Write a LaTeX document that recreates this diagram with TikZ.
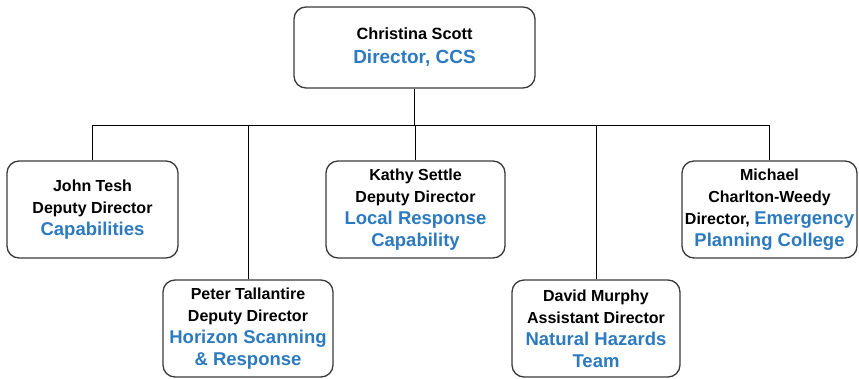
\documentclass[tikz,border=0pt]{standalone}
\usepackage{fontspec}
\setmainfont{Liberation Sans}
\usepackage{xcolor}
\usetikzlibrary{positioning}
\definecolor{my_blue}{HTML}{2C7ABF}
\definecolor{my_darkgray}{HTML}{3A3A3A}
\newcommand{\deptname}[1]{{\color{my_blue}\fontsize{18.5}{22}\selectfont #1}}

\begin{document}
\begin{tikzpicture}[
    x=1pt, y=-1pt,
    orgbox/.style={draw=my_darkgray, line width=1.3pt, rounded corners=12pt, fill=white,
        align=center, inner sep=0pt, minimum height=97pt,
        font=\bfseries\fontsize{16}{22}\selectfont},
    link/.style={draw=black, line width=0.9pt}
]
\useasboundingbox (0,0) rectangle (859,378);

% --- Director ---
\node[orgbox, minimum width=241pt, minimum height=81pt,
      font=\bfseries\fontsize{16.3}{24}\selectfont] (ccs) at (414.5,47.5)
    {Christina Scott\\ {\color{my_blue}\fontsize{19}{24}\selectfont Director, CCS}};

% --- Upper row ---
\node[orgbox, minimum width=171pt] (tesh) at (92.5,209.5)
    {John Tesh\\ Deputy Director\\ \deptname{Capabilities}};
\node[orgbox, minimum width=179pt] (settle) at (415.5,209.5)
    {Kathy Settle\\ Deputy Director\\ \deptname{Local Response}\\ \deptname{Capability}};
\node[orgbox, minimum width=175pt] (charlton) at (769.5,209.5)
    {Michael\\ Charlton-Weedy\\ Director, \deptname{Emergency}\\ \deptname{Planning College}};

% --- Lower row ---
\node[orgbox, minimum width=170pt] (tallantire) at (248,328.5)
    {Peter Tallantire\\ Deputy Director\\ \deptname{Horizon Scanning}\\ \deptname{\& Response}};
\node[orgbox, minimum width=168pt] (murphy) at (596,328.5)
    {David Murphy\\ Assistant Director\\ \deptname{Natural Hazards}\\ \deptname{Team}};

% --- Links ---
\coordinate (bus) at (0,125);
\draw[link] (ccs.south) -- (ccs.south |- bus);
\draw[link] (tesh.north |- bus) -- (charlton.north |- bus);
\foreach \n in {tesh, tallantire, settle, murphy, charlton} {
    \draw[link] (\n.north) -- (\n.north |- bus);
}

\end{tikzpicture}
\end{document}
